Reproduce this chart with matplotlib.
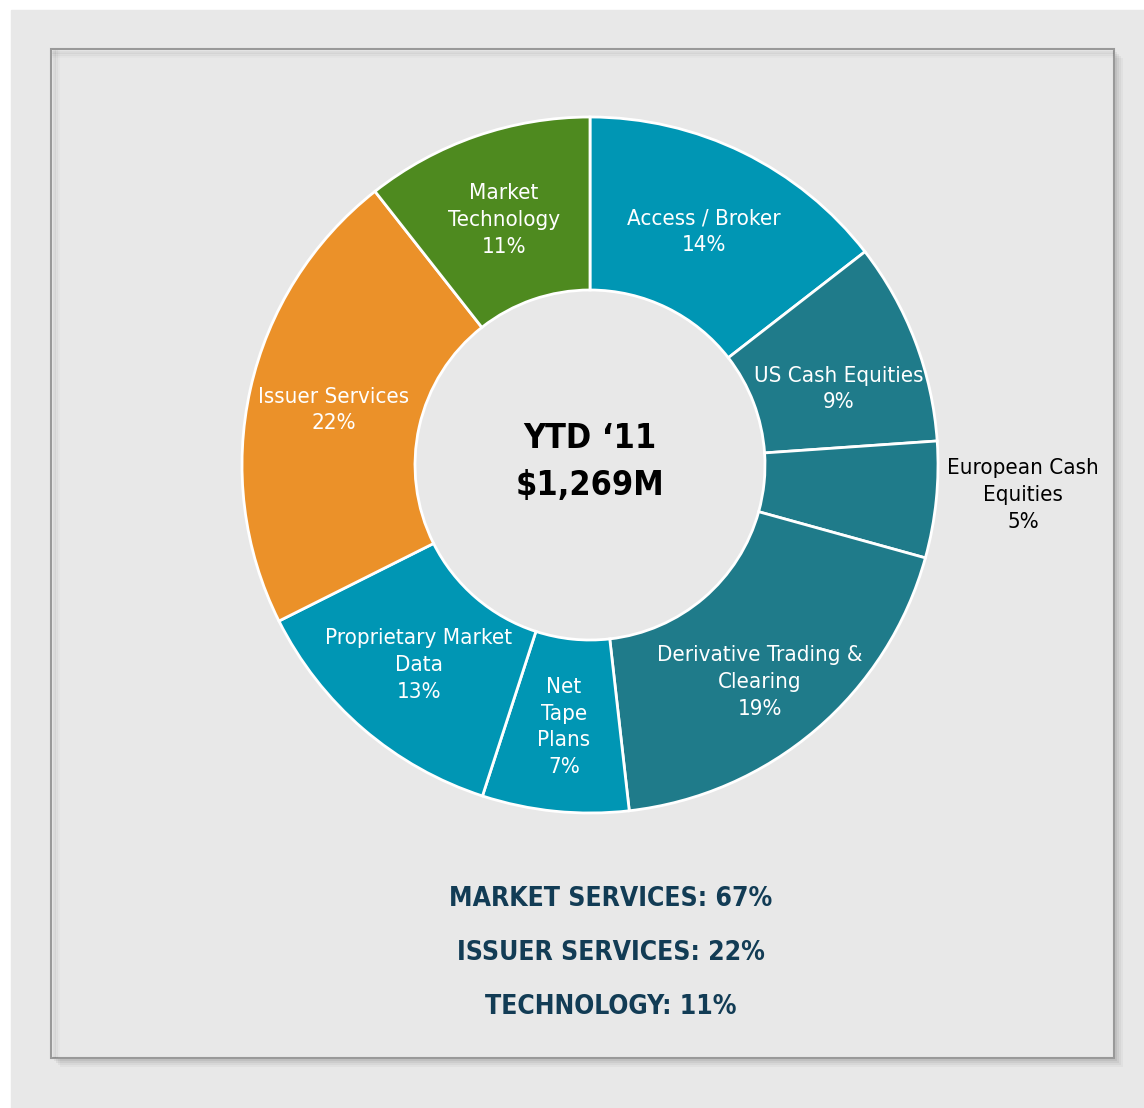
import matplotlib.pyplot as plt
from matplotlib.patches import Rectangle

plt.rcParams['font.family'] = ['DejaVu Sans']
plt.rcParams['font.stretch'] = 'condensed'

# donnees du graphique (parts en %)
segments = ['Access / Broker', 'US Cash Equities', 'European Cash\nEquities',
            'Derivative Trading &\nClearing', 'Net\nTape\nPlans',
            'Proprietary Market\nData', 'Issuer Services', 'Market\nTechnology']
parts = [14.5, 9.4, 5.4, 18.9, 6.8, 12.6, 21.8, 10.6]
etiquettes = ['14%', '9%', '5%', '19%', '7%', '13%', '22%', '11%']
couleurs = ['#0096b4', '#1f7b8a', '#1f7b8a', '#1f7b8a', '#0096b4',
            '#0096b4', '#eb9129', '#4e8a1f']
totaux = ['MARKET SERVICES: 67%', 'ISSUER SERVICES: 22%', 'TECHNOLOGY: 11%']
titre = "YTD \u201811\n$1,269M"

W, H = 1144, 1108
fig = plt.figure(figsize=(W / 100, H / 100), dpi=100)
ax = fig.add_axes([0, 0, 1, 1])

def Y(py):
    return H - py

# fond gris + cadre avec ombre
ax.add_patch(Rectangle((11, 0), W - 11, Y(10), color='#e8e8e8', zorder=0))
for k, a in enumerate([0.05, 0.05, 0.04, 0.03]):
    ax.add_patch(Rectangle((51 + 3 + k * 2, Y(1058) - 3 - k * 2), 1063, 1009,
                           facecolor='black', alpha=a, lw=0, zorder=1))
ax.add_patch(Rectangle((51, Y(1058)), 1063, 1009, facecolor='#e8e8e8',
                       edgecolor='#999999', lw=1.5, zorder=2))
for k, a in enumerate([0.06, 0.04, 0.02]):
    ax.plot([53, 1112], [Y(52 + k * 2)] * 2, color='black', alpha=a, lw=2, zorder=3)
    ax.plot([54 + k * 2] * 2, [Y(1056), Y(51)], color='black', alpha=a, lw=2, zorder=3)

cx, cy, R = 590, Y(465), 348
wedges, _ = ax.pie(parts, colors=couleurs, startangle=90, counterclock=False,
                   center=(cx, cy), radius=R, frame=True,
                   wedgeprops=dict(width=R - 175, edgecolor='white', linewidth=2))
for w in wedges:
    w.set_zorder(4)

# etiquettes
positions = [(704, 232), (839, 389), (1023, 495), (760, 682),
             (564, 727), (419, 665), (334, 410), (504, 220)]
for nom, e, (px, py) in zip(segments, etiquettes, positions):
    coul = 'black' if e == '5%' else 'white'
    ax.text(px, Y(py), nom + '\n' + e, ha='center', va='center',
            fontsize=16, color=coul, linespacing=1.42, zorder=5)

ax.text(cx, Y(462), titre, ha='center', va='center', fontsize=24.5,
        fontweight='bold', linespacing=1.5, zorder=5)

for i, t in enumerate(totaux):
    ax.text(611, Y(899 + 54 * i), t, ha='center', va='center', fontsize=19,
            fontweight='bold', color='#123c55', zorder=5)

ax.set_xlim(0, W)
ax.set_ylim(0, H)
ax.set_aspect('auto')
ax.axis('off')

plt.savefig('out.png', dpi=100, facecolor='white')
